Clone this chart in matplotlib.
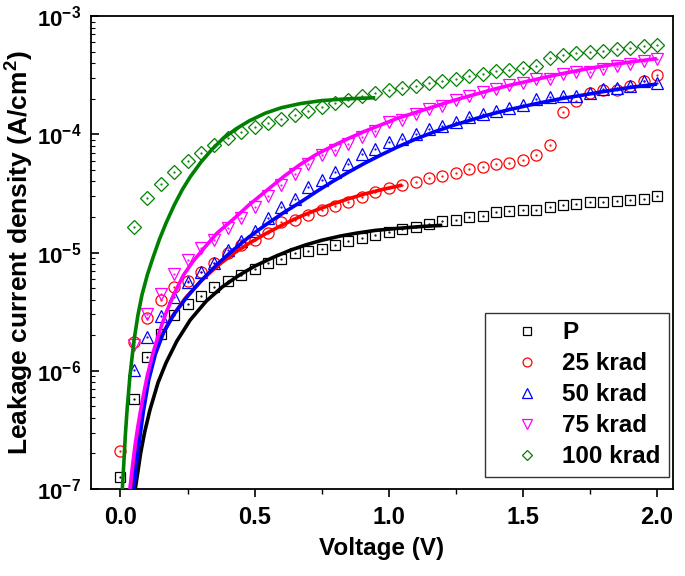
import numpy as np
import matplotlib
matplotlib.use('Agg')
import matplotlib.pyplot as plt
from matplotlib.ticker import FuncFormatter, LogLocator, MultipleLocator

plt.rcParams['font.family'] = 'Liberation Sans'
plt.rcParams['font.weight'] = 'bold'
plt.rcParams['mathtext.fontset'] = 'custom'
plt.rcParams['mathtext.rm'] = 'Liberation Sans:bold'
plt.rcParams['mathtext.bf'] = 'Liberation Sans:bold'
plt.rcParams['mathtext.it'] = 'Liberation Sans:bold'

# measured points (V, A/cm^2)
volt = [0.0, 0.05, 0.1, 0.15, 0.2, 0.25, 0.3, 0.35, 0.4, 0.45, 0.5, 0.55, 0.6, 0.65,
        0.7, 0.75, 0.8, 0.85, 0.9, 0.95, 1.0, 1.05, 1.1, 1.15, 1.2, 1.25, 1.3, 1.35,
        1.4, 1.45, 1.5, 1.55, 1.6, 1.65, 1.7, 1.75, 1.8, 1.85, 1.9, 1.95, 2.0]

j_p = [1.26e-7, 5.8e-7, 1.32e-6, 2.05e-6, 2.95e-6, 3.65e-6, 4.3e-6, 5.1e-6, 5.8e-6, 6.4e-6,
       7.3e-6, 8.2e-6, 8.8e-6, 9.9e-6, 1.03e-5, 1.08e-5, 1.17e-5, 1.25e-5, 1.32e-5, 1.42e-5,
       1.5e-5, 1.57e-5, 1.65e-5, 1.74e-5, 1.84e-5, 1.9e-5, 2.0e-5, 2.04e-5, 2.2e-5, 2.23e-5,
       2.27e-5, 2.31e-5, 2.44e-5, 2.51e-5, 2.57e-5, 2.66e-5, 2.69e-5, 2.74e-5, 2.81e-5, 2.86e-5,
       3.0e-5]

j_25 = [2.1e-7, 1.75e-6, 2.8e-6, 3.95e-6, 5.1e-6, 5.7e-6, 6.9e-6, 8.2e-6, 9.9e-6, 1.17e-5,
        1.28e-5, 1.46e-5, 1.82e-5, 1.89e-5, 2.06e-5, 2.29e-5, 2.48e-5, 2.7e-5, 2.95e-5, 3.24e-5,
        3.53e-5, 3.72e-5, 3.95e-5, 4.3e-5, 4.45e-5, 4.75e-5, 5.05e-5, 5.25e-5, 5.57e-5, 5.75e-5,
        6.02e-5, 6.64e-5, 8.13e-5, 1.56e-4, 1.91e-4, 2.25e-4, 2.38e-4, 2.38e-4, 2.54e-4, 2.83e-4,
        3.2e-4]

j_50 = [1.02e-6, 1.95e-6, 2.92e-6, 4.2e-6, 5.6e-6, 6.8e-6, 8.2e-6, 1.06e-5, 1.25e-5,
        1.52e-5, 1.95e-5, 2.43e-5, 2.82e-5, 3.6e-5, 4.1e-5, 4.78e-5, 5.65e-5, 6.78e-5, 7.47e-5,
        8.6e-5, 9.1e-5, 1.0e-4, 1.1e-4, 1.18e-4, 1.26e-4, 1.39e-4, 1.48e-4, 1.58e-4, 1.68e-4,
        1.76e-4, 1.98e-4, 2.05e-4, 2.12e-4, 2.12e-4, 2.25e-4, 2.42e-4, 2.49e-4, 2.54e-4, 2.83e-4,
        2.72e-4]

j_75 = [1.66e-6, 3.0e-6, 4.45e-6, 6.55e-6, 8.7e-6, 1.09e-5, 1.27e-5, 1.6e-5, 1.95e-5,
        2.44e-5, 3.0e-5, 3.75e-5, 4.6e-5, 5.6e-5, 6.7e-5, 7.4e-5, 8.3e-5, 9.5e-5, 1.07e-4,
        1.27e-4, 1.33e-4, 1.5e-4, 1.63e-4, 1.75e-4, 1.96e-4, 2.1e-4, 2.26e-4, 2.4e-4, 2.6e-4,
        2.74e-4, 2.96e-4, 2.96e-4, 3.23e-4, 3.34e-4, 3.37e-4, 3.6e-4, 3.79e-4, 3.92e-4, 4.18e-4,
        4.3e-4]

j_100 = [1.66e-5, 2.9e-5, 3.8e-5, 4.85e-5, 5.9e-5, 6.9e-5, 8.1e-5, 9.3e-5, 1.05e-4, 1.15e-4,
         1.24e-4, 1.36e-4, 1.46e-4, 1.58e-4, 1.71e-4, 1.83e-4, 1.96e-4, 2.12e-4, 2.25e-4,
         2.37e-4, 2.46e-4, 2.58e-4, 2.73e-4, 2.84e-4, 2.95e-4, 3.13e-4, 3.25e-4, 3.42e-4,
         3.53e-4, 3.65e-4, 3.79e-4, 4.43e-4, 4.72e-4, 4.88e-4, 5.0e-4, 5.1e-4, 5.27e-4, 5.35e-4,
         5.56e-4, 5.73e-4]

# fitted curves
fit_p_v = [0.055, 0.065, 0.075, 0.09, 0.11, 0.14, 0.17, 0.21, 0.26, 0.32, 0.38, 0.44,
           0.5, 0.57, 0.63, 0.69, 0.75, 0.82, 0.88, 0.95, 1.03, 1.12, 1.2]
fit_p_j = [1.0e-7, 1.41e-7, 2.0e-7, 3.02e-7, 4.68e-7, 7.94e-7, 1.17e-6, 1.78e-6, 2.69e-6,
           3.89e-6, 5.13e-6, 6.38e-6, 7.67e-6, 9.12e-6, 1.04e-5, 1.16e-5, 1.27e-5, 1.38e-5,
           1.46e-5, 1.54e-5, 1.6e-5, 1.66e-5, 1.7e-5]

fit_25_v = [0.042, 0.05, 0.06, 0.075, 0.095, 0.12, 0.15, 0.19, 0.24, 0.3, 0.36, 0.42,
            0.48, 0.545, 0.61, 0.67, 0.73, 0.79, 0.85, 0.91, 0.97, 1.05]
fit_25_j = [1.0e-7, 1.45e-7, 2.19e-7, 3.8e-7, 7.4e-7, 1.26e-6, 1.91e-6, 2.82e-6, 4.07e-6,
            5.75e-6, 7.67e-6, 9.77e-6, 1.2e-5, 1.46e-5, 1.74e-5, 2.02e-5, 2.29e-5, 2.57e-5,
            2.85e-5, 3.13e-5, 3.39e-5, 3.72e-5]

fit_50_v = [0.05, 0.06, 0.07, 0.085, 0.105, 0.13, 0.16, 0.2, 0.25, 0.3, 0.36, 0.42, 0.48,
            0.545, 0.61, 0.67, 0.73, 0.79, 0.85, 0.91, 0.97, 1.03, 1.1, 1.17, 1.24, 1.31,
            1.39, 1.46, 1.55, 1.64, 1.73, 1.82, 1.91, 2.0]
fit_50_j = [1.0e-7, 1.66e-7, 2.51e-7, 4.47e-7, 8.3e-7, 1.38e-6, 2.09e-6, 3.02e-6, 4.27e-6,
            5.75e-6, 7.94e-6, 1.05e-5, 1.36e-5, 1.74e-5, 2.19e-5, 2.66e-5, 3.27e-5, 3.98e-5,
            4.79e-5, 5.69e-5, 6.68e-5, 7.76e-5, 9.12e-5, 1.05e-4, 1.19e-4, 1.33e-4, 1.5e-4,
            1.64e-4, 1.82e-4, 2.0e-4, 2.16e-4, 2.34e-4, 2.51e-4, 2.66e-4]

fit_75_v = [0.035, 0.045, 0.055, 0.065, 0.08, 0.1, 0.12, 0.145, 0.17, 0.2, 0.235, 0.27,
            0.31, 0.36, 0.42, 0.48, 0.545, 0.61, 0.67, 0.73, 0.79, 0.85, 0.91, 0.97, 1.03,
            1.1, 1.17, 1.24, 1.31, 1.39, 1.46, 1.55, 1.64, 1.73, 1.82, 1.91, 2.0]
fit_75_j = [1.0e-7, 1.58e-7, 2.4e-7, 3.39e-7, 5.37e-7, 9.1e-7, 1.38e-6, 2.14e-6, 3.09e-6,
            4.47e-6, 6.46e-6, 8.4e-6, 1.08e-5, 1.46e-5, 1.91e-5, 2.54e-5, 3.35e-5, 4.42e-5,
            5.56e-5, 6.76e-5, 7.94e-5, 9.23e-5, 1.06e-4, 1.2e-4, 1.36e-4, 1.53e-4, 1.72e-4,
            1.93e-4, 2.14e-4, 2.4e-4, 2.63e-4, 2.92e-4, 3.24e-4, 3.55e-4, 3.85e-4, 4.12e-4,
            4.37e-4]

fit_100_v = [0.007, 0.012, 0.018, 0.025, 0.035, 0.05, 0.065, 0.08, 0.1, 0.12, 0.145, 0.17,
             0.2, 0.23, 0.26, 0.3, 0.34, 0.38, 0.43, 0.48, 0.54, 0.6, 0.67, 0.75, 0.85, 0.95]
fit_100_j = [1.0e-7, 1.58e-7, 2.82e-7, 4.79e-7, 8.9e-7, 1.78e-6, 2.95e-6, 4.37e-6, 6.46e-6,
             8.9e-6, 1.29e-5, 1.78e-5, 2.51e-5, 3.39e-5, 4.37e-5, 5.82e-5, 7.41e-5, 9.12e-5,
             1.11e-4, 1.3e-4, 1.51e-4, 1.68e-4, 1.82e-4, 1.93e-4, 2.0e-4, 2.04e-4]

labels = ['P', '25 krad', '50 krad', '75 krad', '100 krad']
colors = ['black', 'red', 'blue', 'magenta', 'green']
markers = ['s', 'o', '^', 'v', 'D']
msizes = [7.5, 8, 8.5, 8.5, 6.8]

series = [(volt, j_p), (volt, j_25), (volt[1:], j_50), (volt[1:], j_75), (volt[1:], j_100)]
fits = [(fit_p_v, fit_p_j), (fit_25_v, fit_25_j), (fit_50_v, fit_50_j),
        (fit_75_v, fit_75_j), (fit_100_v, fit_100_j)]

fig = plt.figure(figsize=(6.85, 5.76), dpi=100)
ax = fig.add_axes([0.1328, 0.151, 0.8497, 0.821])

for (x, y), lab, c, m, ms in zip(series, labels, colors, markers, msizes):
    ax.plot(x, y, linestyle='none', marker=m, ms=ms, mfc='none', mec=c, mew=0.9,
            label=lab, zorder=2)
    ax.plot(x, y, linestyle='none', marker='.', ms=1.2, color=c, zorder=2)

for (x, y), c in zip(fits, colors):
    ax.plot(x, y, color=c, lw=2.6, solid_capstyle='butt', solid_joinstyle='round', zorder=3)

ax.set_yscale('log')
ax.set_xlim(-0.11, 2.06)
ax.set_ylim(1e-7, 1e-3)

ax.xaxis.set_major_locator(MultipleLocator(0.5))
ax.xaxis.set_minor_locator(MultipleLocator(0.25))
ax.yaxis.set_major_locator(LogLocator(base=10, numticks=10))
ax.yaxis.set_minor_locator(LogLocator(base=10, subs=np.arange(2, 10), numticks=20))
ax.yaxis.set_major_formatter(FuncFormatter(lambda v, p: r'$\mathrm{10^{%d}}$' % round(np.log10(v))))

ax.tick_params(axis='x', which='major', direction='out', length=6, width=1.2,
               labelsize=17, pad=6, top=False)
ax.tick_params(axis='x', which='minor', direction='out', length=3.5, width=1.0, top=False)
ax.tick_params(axis='y', which='major', direction='in', length=6, width=1.2,
               labelsize=16, pad=7, right=False)
ax.tick_params(axis='y', which='minor', direction='in', length=3, width=0.8, right=False)
for s in ax.spines.values():
    s.set_linewidth(1.3)

ax.set_xlabel('Voltage (V)', fontsize=17.5, fontweight='bold', labelpad=6)
ax.set_ylabel(r'Leakage current density (A/cm$^\mathrm{2}$)', fontsize=19,
              fontweight='bold', labelpad=0.5)

leg = ax.legend(loc='lower right', bbox_to_anchor=(0.9936, 0.026), borderaxespad=0,
                fontsize=17.5, markerscale=0.8, handlelength=2.75, handletextpad=0.1,
                borderpad=0.35, labelspacing=0.33, fancybox=False, framealpha=1,
                edgecolor='#333333', numpoints=1)
leg.get_frame().set_linewidth(1.0)

fig.savefig('out.png', dpi=100)
